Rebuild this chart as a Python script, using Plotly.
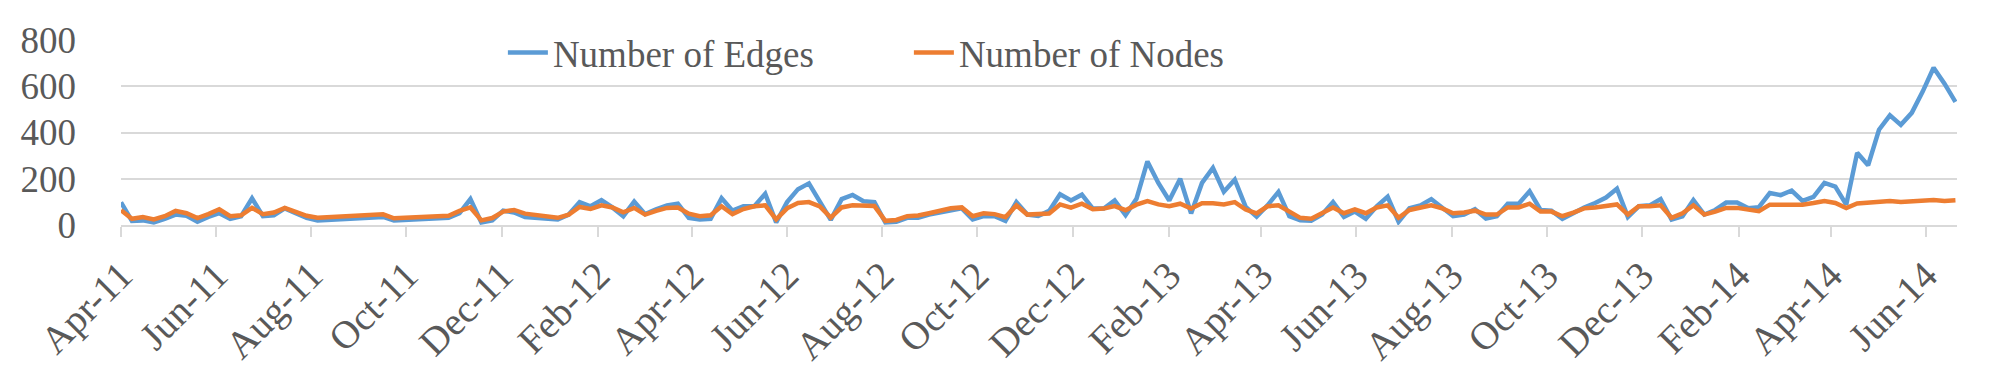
import pandas as pd
import plotly.graph_objects as go

# weekly samples, counted in weeks from the first one (gaps = no data that week)
start = '2011-04-01'
week = [0, 1, 2, 3, 4, 5, 6, 7, 8, 9, 10, 11, 12, 13, 14, 15, 16, 17, 18, 22,
        24, 25, 30, 31, 32, 33, 34, 35, 36, 37, 40, 41, 42, 43, 44, 45, 46, 47, 48, 49,
        50, 51, 52, 53, 54, 55, 56, 57, 58, 59, 60, 61, 62, 63, 64, 65, 66, 67, 68, 69,
        70, 71, 72, 73, 74, 75, 76, 77, 78, 79, 80, 81, 82, 83, 84, 85, 86, 87, 88, 89,
        90, 91, 92, 93, 94, 95, 96, 97, 98, 99, 100, 101, 102, 103, 104, 105, 106, 107, 108, 109,
        110, 111, 112, 113, 114, 115, 116, 117, 118, 119, 120, 121, 122, 123, 124, 125, 126, 127, 128, 129,
        130, 131, 132, 133, 134, 135, 136, 137, 138, 139, 140, 141, 142, 143, 144, 145, 146, 147, 148, 149,
        150, 151, 152, 153, 154, 155, 156, 157, 158, 159, 160, 161, 162, 163, 164, 165, 166, 167, 168]

edges = [98, 18, 20, 11, 27, 45, 40, 14, 35, 51, 27, 38, 115, 38, 42, 72, 51, 31, 20, 31,
         35, 20, 31, 51, 112, 11, 20, 62, 54, 35, 24, 45, 99, 81, 108, 76, 38, 101, 47, 68,
         85, 92, 31, 24, 27, 116, 62, 81, 81, 135, 11, 99, 155, 180, 100, 22, 112, 130, 103, 99,
         11, 14, 31, 31, 45, 55, 65, 72, 24, 38, 38, 18, 99, 45, 39, 61, 133, 106, 131, 71,
         71, 106, 43, 113, 275, 182, 106, 200, 50, 182, 247, 144, 196, 78, 36, 85, 143, 38, 20, 18,
         45, 99, 35, 58, 27, 81, 122, 14, 72, 85, 112, 76, 38, 45, 68, 28, 38, 92, 92, 146,
         65, 62, 27, 51, 76, 95, 119, 157, 35, 81, 85, 112, 24, 38, 108, 45, 65, 97, 97, 73,
         77, 138, 129, 149, 104, 122, 182, 166, 88, 312, 258, 412, 474, 433, 485, 577, 680, 611, 532]

nodes = [64, 27, 34, 24, 38, 61, 51, 30, 47, 68, 38, 42, 74, 47, 54, 74, 57, 40, 31, 42,
         46, 29, 40, 61, 76, 20, 30, 58, 65, 49, 31, 45, 78, 69, 85, 76, 55, 74, 45, 61,
         74, 76, 49, 38, 42, 81, 47, 69, 81, 85, 24, 72, 95, 99, 80, 32, 76, 85, 85, 82,
         18, 22, 38, 41, 51, 62, 72, 76, 38, 51, 47, 34, 85, 45, 46, 50, 89, 75, 92, 68,
         71, 82, 64, 88, 103, 89, 81, 92, 71, 94, 94, 89, 99, 67, 50, 81, 85, 58, 31, 27,
         51, 76, 51, 68, 51, 76, 85, 31, 65, 76, 85, 72, 51, 54, 62, 45, 45, 76, 76, 92,
         58, 58, 38, 54, 72, 76, 81, 89, 45, 81, 81, 85, 31, 51, 85, 45, 58, 74, 74, 67,
         60, 88, 88, 92, 88, 95, 104, 95, 73, 93, 97, 97, 104, 100, 104, 108, 108, 104, 107]

dates = pd.Timestamp(start) + pd.to_timedelta([w * 7 for w in week], unit='D')

font = 'Liberation Serif, Times New Roman, serif'
grey = '#595959'

fig = go.Figure()
fig.add_trace(go.Scatter(x=dates, y=edges, name='Number of Edges', mode='lines',
                         line=dict(color='#5B9BD5', width=4.5)))
fig.add_trace(go.Scatter(x=dates, y=nodes, name='Number of Nodes', mode='lines',
                         line=dict(color='#ED7D31', width=4.5)))

fig.update_layout(
    width=2000, height=372,
    margin=dict(l=102, r=51, t=32, b=146),
    paper_bgcolor='white', plot_bgcolor='white',
    font=dict(family=font, size=37, color=grey),
    legend=dict(orientation='h', x=0.208, xanchor='left', y=0.93, yanchor='middle',
                bgcolor='rgba(0,0,0,0)', font=dict(size=37), entrywidth=351,
                itemwidth=40, tracegroupgap=0),
)

fig.update_xaxes(
    type='date', range=['2011-04-01', '2014-06-21'],
    tick0='2011-04-01', dtick='M2', tickformat='%b-%y', tickangle=-45,
    tickfont=dict(size=39),
    showgrid=False, showline=True, linecolor='#D9D9D9', linewidth=1.5,
    ticks='outside', ticklen=10, tickcolor='#D9D9D9', tickwidth=1.5,
)
fig.update_yaxes(
    range=[0, 800], dtick=200, showgrid=True, gridcolor='#D9D9D9', gridwidth=1.5,
    zeroline=False, ticks='', ticklabelstandoff=44,
)

fig.write_html('out.html')
